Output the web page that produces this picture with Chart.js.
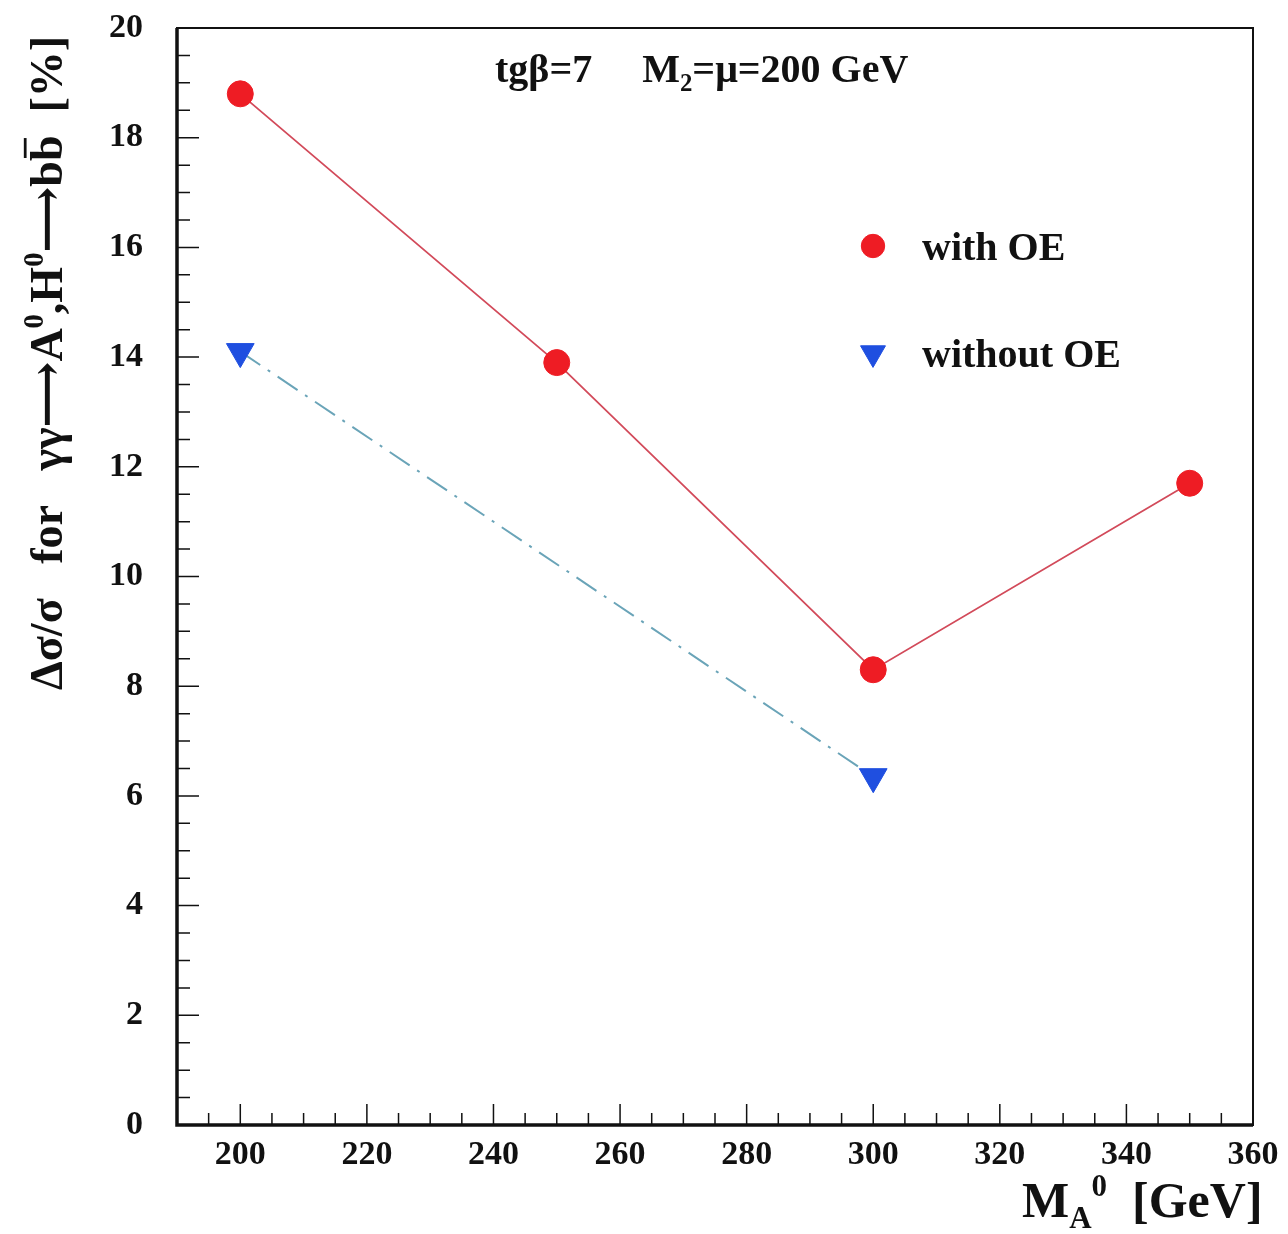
<!DOCTYPE html>
<html lang="en">
  <head>
    <meta charset="UTF-8" />
    <title>Δσ/σ for γγ → A0,H0 → bb</title>
    <script src="https://cdn.jsdelivr.net/npm/chart.js"></script>
    <style>
      html,
      body {
        margin: 0;
        padding: 0;
        background: #fff;
      }
      #wrap {
        width: 1288px;
        height: 1234px;
      }
    </style>
  </head>
  <body>
    <div id="wrap"><canvas id="chart"></canvas></div>

    <script>
      // values
      const massWith = [200, 250, 300, 350];
      const withOE = [18.8, 13.9, 8.3, 11.7];
      const massWithout = [200, 300];
      const withoutOE = [14.1, 6.35];

      const xTicks = [200, 220, 240, 260, 280, 300, 320, 340, 360];
      const yTicks = [0, 2, 4, 6, 8, 10, 12, 14, 16, 18, 20];

      const SERIF = '"Liberation Serif", "DejaVu Serif", serif';

      // draws text made of normal / sup / sub / barred parts
      function richText(ctx, parts, x, y, size) {
        let cx = x;
        parts.forEach(([t, k]) => {
          const s = k === "sup" || k === "sub" ? size * 0.62 : size;
          ctx.font = "bold " + s + "px " + SERIF;
          let dy = 0;
          if (k === "sup") dy = -size * 0.42;
          if (k === "sub") dy = size * 0.22;
          ctx.fillText(t, cx, y + dy);
          const w = ctx.measureText(t).width;
          if (k === "bar") {
            ctx.save();
            ctx.lineWidth = size * 0.06;
            ctx.beginPath();
            ctx.moveTo(cx + w * 0.12, y - size * 0.8);
            ctx.lineTo(cx + w * 0.9, y - size * 0.8);
            ctx.stroke();
            ctx.restore();
          }
          cx += w;
        });
        return cx - x;
      }

      function noPadding(scale) {
        scale.paddingTop = 0;
        scale.paddingBottom = 0;
        scale.paddingLeft = 0;
        scale.paddingRight = 0;
      }

      const frameAndText = {
        id: "frameAndText",
        afterDraw(chart) {
          const ctx = chart.ctx;
          const a = chart.chartArea;
          const xs = chart.scales.x;
          const ys = chart.scales.y;
          ctx.save();
          ctx.strokeStyle = "#111";
          ctx.fillStyle = "#111";

          // frame
          ctx.lineWidth = 2;
          ctx.strokeRect(a.left, a.top, a.right - a.left, a.bottom - a.top);
          ctx.lineWidth = 3.5;
          ctx.beginPath();
          ctx.moveTo(a.left, a.top);
          ctx.lineTo(a.left, a.bottom);
          ctx.lineTo(a.right, a.bottom);
          ctx.stroke();

          // inner ticks
          ctx.lineWidth = 1.5;
          ctx.beginPath();
          for (let v = 195; v <= 355; v += 5) {
            const px = xs.getPixelForValue(v);
            const len = v % 20 === 0 ? 21 : 12;
            ctx.moveTo(px, a.bottom);
            ctx.lineTo(px, a.bottom - len);
          }
          for (let v = 0.5; v < 20; v += 0.5) {
            const py = ys.getPixelForValue(v);
            const len = v % 2 === 0 ? 22 : 13;
            ctx.moveTo(a.left, py);
            ctx.lineTo(a.left + len, py);
          }
          ctx.stroke();

          // axis titles
          ctx.textAlign = "left";
          ctx.textBaseline = "alphabetic";
          richText(
            ctx,
            [
              ["M", "n"],
              ["A", "sub"],
              ["0", "sup"],
              ["  [GeV]", "n"],
            ],
            1022,
            1217,
            50
          );

          ctx.save();
          ctx.translate(62, 690);
          ctx.rotate(-Math.PI / 2);
          richText(
            ctx,
            [
              ["Δσ/σ   for   γγ⟶A", "n"],
              ["0", "sup"],
              [",H", "n"],
              ["0", "sup"],
              ["⟶b", "n"],
              ["b", "bar"],
              ["  [%]", "n"],
            ],
            0,
            0,
            46
          );
          ctx.restore();

          // annotation
          richText(
            ctx,
            [
              ["tgβ=7     M", "n"],
              ["2", "sub"],
              ["=μ=200 GeV", "n"],
            ],
            495,
            82,
            40
          );

          // legend
          const rows = [
            { y: 246, label: "with OE", ds: 0 },
            { y: 353, label: "without OE", ds: 1 },
          ];
          rows.forEach((r) => {
            const d = chart.data.datasets[r.ds];
            ctx.fillStyle = d.pointBackgroundColor;
            ctx.strokeStyle = d.pointBackgroundColor;
            ctx.lineWidth = 1;
            Chart.helpers.drawPoint(
              ctx,
              {
                pointStyle: d.pointStyle,
                rotation: d.pointRotation || 0,
                radius: d.pointRadius * 0.9,
                borderWidth: 1,
              },
              873,
              r.y
            );
            ctx.fillStyle = "#111";
            ctx.font = "bold 40px " + SERIF;
            ctx.fillText(r.label, 922, r.y + 14);
          });
          ctx.restore();
        },
      };

      const ctxChart = document.getElementById("chart").getContext("2d");
      new Chart(ctxChart, {
        type: "line",
        data: {
          datasets: [
            {
              label: "with OE",
              data: massWith.map((m, i) => ({ x: m, y: withOE[i] })),
              borderColor: "#d24a5a",
              borderWidth: 1.8,
              pointStyle: "circle",
              pointRadius: 13,
              pointBackgroundColor: "#ee1c24",
              pointBorderColor: "#ee1c24",
              pointBorderWidth: 1,
              tension: 0,
            },
            {
              label: "without OE",
              data: massWithout.map((m, i) => ({ x: m, y: withoutOE[i] })),
              borderColor: "#6aa4b8",
              borderWidth: 2,
              borderDash: [24, 9, 3, 9],
              pointStyle: "triangle",
              pointRotation: 180,
              pointRadius: 16,
              pointBackgroundColor: "#1f4fe0",
              pointBorderColor: "#1f4fe0",
              pointBorderWidth: 1,
              tension: 0,
            },
          ],
        },
        options: {
          responsive: true,
          maintainAspectRatio: false,
          animation: false,
          layout: {
            padding: { left: 0, top: 28, right: 35, bottom: 0 },
          },
          plugins: {
            legend: { display: false },
            tooltip: { enabled: false },
          },
          scales: {
            x: {
              type: "linear",
              min: 190,
              max: 360,
              afterBuildTicks(scale) {
                scale.ticks = xTicks.map((v) => ({ value: v }));
              },
              afterFit(scale) {
                scale.height = 109;
                noPadding(scale);
              },
              grid: { display: false, drawTicks: false },
              border: { display: false },
              ticks: {
                autoSkip: false,
                maxRotation: 0,
                padding: 10,
                color: "#111",
                font: { family: SERIF, size: 34, weight: "bold" },
              },
            },
            y: {
              min: 0,
              max: 20,
              afterBuildTicks(scale) {
                scale.ticks = yTicks.map((v) => ({ value: v }));
              },
              afterFit(scale) {
                scale.width = 177;
                noPadding(scale);
              },
              grid: { display: false, drawTicks: false },
              border: { display: false },
              ticks: {
                autoSkip: false,
                padding: 34,
                color: "#111",
                font: { family: SERIF, size: 34, weight: "bold" },
              },
            },
          },
        },
        plugins: [frameAndText],
      });
    </script>
  </body>
</html>
